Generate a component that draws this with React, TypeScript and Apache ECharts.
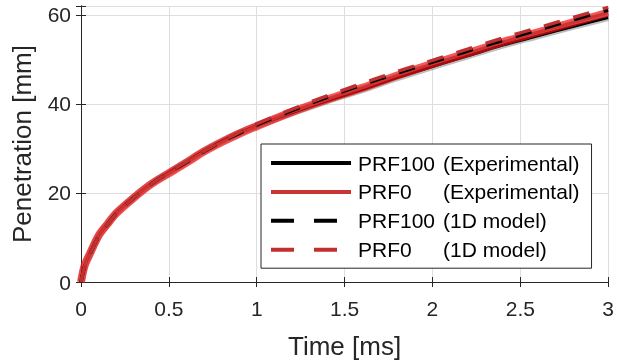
import React, { useEffect, useRef } from "react";
import * as echarts from "echarts";

const times = [0, 0.02, 0.05, 0.1, 0.15, 0.2, 0.3, 0.4, 0.5, 0.6, 0.7, 0.8, 0.9, 1.0, 1.2, 1.4, 1.6, 1.8, 2.0, 2.2, 2.4, 2.6, 2.8, 3.0];
const prf100Exp = [0, 3.6, 6.3, 10.4, 13.0, 15.5, 19.0, 22.1, 24.6, 27.0, 29.5, 31.6, 33.5, 35.1, 38.0, 40.7, 43.2, 45.9, 48.4, 50.8, 53.2, 55.3, 57.4, 59.4];
const prf0Exp = [0, 3.6, 6.3, 10.4, 13.0, 15.4, 18.9, 22.0, 24.4, 26.8, 29.3, 31.4, 33.3, 35.0, 38.2, 41.0, 43.6, 46.4, 49.0, 51.4, 53.9, 56.1, 58.3, 60.5];
const prf100Model = [0, 3.4, 6.2, 10.2, 12.9, 15.3, 18.9, 22.0, 24.6, 26.9, 29.3, 31.5, 33.4, 35.3, 38.5, 41.5, 44.3, 46.9, 49.4, 51.9, 54.3, 56.6, 58.9, 61.1];
const prf0Model = [0, 3.4, 6.2, 10.2, 12.9, 15.3, 18.9, 22.0, 24.6, 27.0, 29.4, 31.6, 33.6, 35.5, 38.8, 41.8, 44.6, 47.3, 49.8, 52.3, 54.8, 57.1, 59.4, 61.7];

const xTicks = [0, 0.5, 1, 1.5, 2, 2.5, 3];
const yTicks = [0, 20, 40, 60];
const seriesNames = ["PRF100 (Experimental)", "PRF0 (Experimental)", "PRF100 (1D model)", "PRF0 (1D model)"];

const FONT = "'Liberation Sans', Arial, Helvetica, sans-serif";
const AX = "#262626";
const DASH = [16.5, 14];
const LEGEND_DASH = [23, 20];

const pts = (ys: number[]) => times.map((t, i) => [t, ys[i]]);

export default function App() {
  const ref = useRef<HTMLDivElement>(null);
  useEffect(() => {
    if (!ref.current) return;
    const chart = echarts.init(ref.current, undefined, { renderer: "svg" });
    const xCommon = {
      type: "value" as const,
      min: xTicks[0],
      max: xTicks[xTicks.length - 1],
      interval: 0.5,
      axisLine: { show: true, lineStyle: { color: AX, width: 1 } },
      axisTick: { show: true, inside: true, length: 5, lineStyle: { color: AX } },
    };
    const yCommon = {
      type: "value" as const,
      min: 0,
      max: 62,
      interval: 20,
      axisLine: { show: true, lineStyle: { color: AX, width: 1 } },
      axisTick: { show: true, inside: true, length: 5, lineStyle: { color: AX } },
    };
    const line = (name: string | undefined, ys: number[], color: string, width: number, dashed: boolean, opacity = 1) => ({
      type: "line",
      name,
      data: pts(ys),
      symbol: "none",
      showSymbol: false,
      smooth: 0.3,
      silent: true,
      lineStyle: { color, width, type: dashed ? DASH : "solid", opacity, cap: "butt" },
      itemStyle: { color, opacity: 0 },
    });
    chart.setOption({
      animation: false,
      grid: { left: 81, right: 8, top: 6, bottom: 80 },
      xAxis: [
        {
          ...xCommon,
          position: "bottom",
          name: "Time [ms]",
          nameLocation: "middle",
          nameGap: 51,
          nameTextStyle: { fontSize: 26, color: AX, fontFamily: FONT },
          axisLabel: {
            margin: 16,
            fontSize: 21,
            color: AX,
            fontFamily: FONT,
            formatter: (v: number) => (xTicks.includes(v) ? String(v) : ""),
          },
          splitLine: { show: true, lineStyle: { color: "#dedede", width: 1 } },
        },
        { ...xCommon, position: "top", axisLabel: { show: false }, splitLine: { show: false } },
      ],
      yAxis: [
        {
          ...yCommon,
          position: "left",
          name: "Penetration [mm]",
          nameLocation: "middle",
          nameGap: 46,
          nameTextStyle: { fontSize: 26, color: AX, fontFamily: FONT },
          axisLabel: {
            margin: 10,
            fontSize: 21,
            color: AX,
            fontFamily: FONT,
            formatter: (v: number) => (yTicks.includes(v) ? String(v) : ""),
          },
          splitLine: { show: true, lineStyle: { color: "#dedede", width: 1 } },
        },
        { ...yCommon, position: "right", axisLabel: { show: false }, splitLine: { show: false } },
      ],
      legend: {
        data: [
          { name: seriesNames[0], lineStyle: { width: 4, type: "solid" } },
          { name: seriesNames[1], lineStyle: { width: 4, type: "solid" } },
          { name: seriesNames[2], lineStyle: { width: 4, type: LEGEND_DASH } },
          { name: seriesNames[3], lineStyle: { width: 4, type: LEGEND_DASH } },
        ],
        orient: "vertical",
        left: 261,
        top: 144,
        padding: [8.5, 12, 8, 8],
        itemGap: 7.9,
        itemWidth: 80,
        itemHeight: 14,
        backgroundColor: "#ffffff",
        borderColor: AX,
        borderWidth: 1,
        borderRadius: 0,
        selectedMode: false,
        itemStyle: { opacity: 0 },
        formatter: (name: string) => {
          const i = name.indexOf(" ");
          return `{a|${name.slice(0, i)}}{b|${name.slice(i + 1)}}`;
        },
        textStyle: {
          fontSize: 21,
          color: "#000",
          fontFamily: FONT,
          rich: {
            a: { fontSize: 21, width: 85, fontFamily: FONT, color: "#000", padding: [0, 0, 0, 2] },
            b: { fontSize: 21, fontFamily: FONT, color: "#000" },
          },
        },
      },
      series: [
        line(undefined, prf100Exp, "#6e6e6e", 7, false, 0.45),
        line(seriesNames[0], prf100Exp, "#000000", 3, false),
        line(undefined, prf0Exp, "#f01010", 8, false, 0.7),
        line(seriesNames[1], prf0Exp, "#cc3333", 3, false),
        line(seriesNames[2], prf100Model, "#000000", 3.5, true),
        line(seriesNames[3], prf0Model, "#c03030", 3.5, true),
      ],
    });
    return () => chart.dispose();
  }, []);
  return <div ref={ref} style={{ position: "fixed", left: 0, top: 0, width: 617, height: 364 }} />;
}
